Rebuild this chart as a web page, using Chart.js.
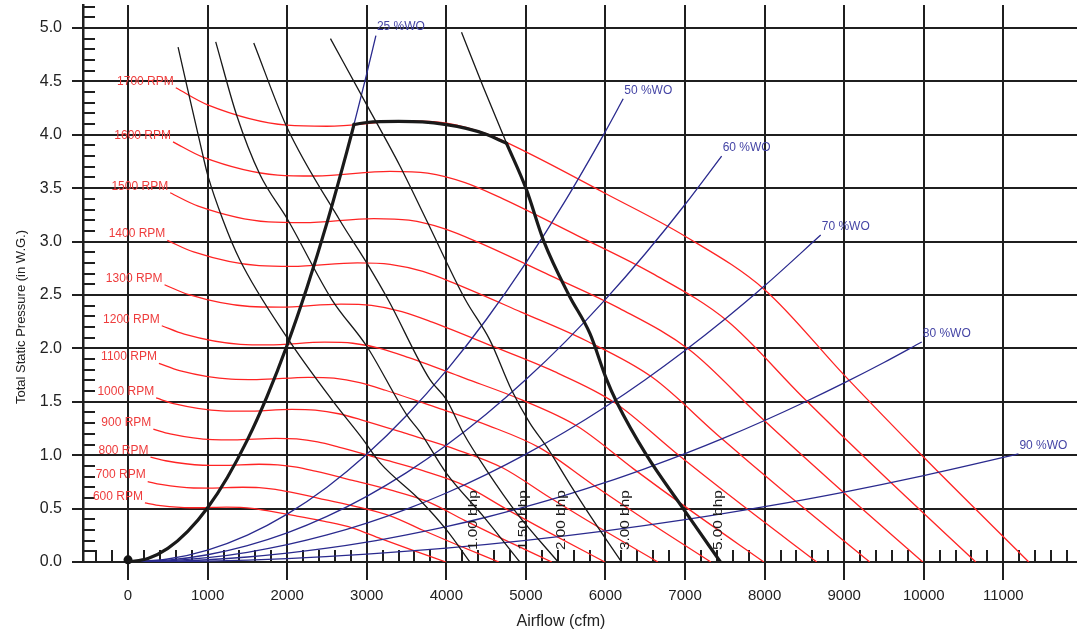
<!DOCTYPE html>
<html><head><meta charset="utf-8">
<script src="https://cdn.jsdelivr.net/npm/chart.js@4/dist/chart.umd.min.js"></script>
<style>html,body{margin:0;padding:0;background:#fff;}#wrap{width:1077px;height:634px;position:relative;}</style>
</head><body><div id="wrap"><canvas id="c" width="1077" height="634"></canvas></div>
<script>
// ---- tick labels ----
const xTicks = [0,1000,2000,3000,4000,5000,6000,7000,8000,9000,10000,11000];
const yTicks = [0,0.5,1.0,1.5,2.0,2.5,3.0,3.5,4.0,4.5,5.0];
const xTitle = 'Airflow (cfm)';
const yTitle = 'Total Static Pressure (in W.G.)';

// ---- fan speed curves (cfm, in W.G.) ----
const rpmSpeeds = [600,700,800,900,1000,1100,1200,1300,1400,1500,1600,1700];
const rpmFlow = [
  [212,353,706,882,1235,1412,1588,1765,2118,2471,2824,3176,3529,3995],
  [247,412,824,1029,1441,1647,1853,2059,2471,2882,3294,3706,4118,4661],
  [282,471,941,1176,1647,1882,2118,2353,2824,3294,3765,4235,4706,5327],
  [318,529,1059,1324,1853,2118,2382,2647,3176,3706,4235,4765,5294,5993],
  [353,588,1176,1471,2059,2353,2647,2941,3529,4118,4706,5294,5882,6659],
  [388,647,1294,1618,2265,2588,2912,3235,3882,4529,5176,5824,6471,7325],
  [424,706,1412,1765,2471,2824,3176,3529,4235,4941,5647,6353,7059,7991],
  [459,765,1529,1912,2676,3059,3441,3824,4588,5353,6118,6882,7647,8656],
  [494,824,1647,2059,2882,3294,3706,4118,4941,5765,6588,7412,8235,9322],
  [529,882,1765,2206,3088,3529,3971,4412,5294,6176,7059,7941,8824,9988],
  [565,941,1882,2353,3294,3765,4235,4706,5647,6588,7529,8471,9412,10654],
  [600,1000,2000,2500,3500,4000,4500,5000,6000,7000,8000,9000,10000,11320]
];
const rpmPressure = [
  [0.553,0.533,0.510,0.508,0.514,0.512,0.500,0.478,0.430,0.380,0.318,0.218,0.122,0],
  [0.753,0.726,0.693,0.692,0.700,0.697,0.680,0.651,0.585,0.517,0.432,0.297,0.166,0],
  [0.983,0.948,0.906,0.904,0.915,0.910,0.888,0.850,0.764,0.675,0.565,0.388,0.217,0],
  [1.244,1.200,1.146,1.144,1.158,1.152,1.124,1.076,0.967,0.855,0.715,0.491,0.275,0],
  [1.536,1.481,1.415,1.412,1.429,1.422,1.388,1.329,1.194,1.055,0.882,0.606,0.339,0],
  [1.859,1.792,1.712,1.708,1.729,1.721,1.679,1.608,1.445,1.277,1.068,0.733,0.410,0],
  [2.212,2.133,2.038,2.033,2.058,2.048,1.998,1.913,1.719,1.520,1.271,0.872,0.488,0],
  [2.596,2.503,2.392,2.386,2.415,2.403,2.345,2.246,2.018,1.784,1.491,1.023,0.573,0],
  [3.011,2.903,2.774,2.767,2.801,2.787,2.720,2.604,2.340,2.069,1.729,1.187,0.665,0],
  [3.457,3.332,3.184,3.177,3.215,3.200,3.122,2.990,2.686,2.375,1.985,1.363,0.763,0],
  [3.933,3.791,3.623,3.614,3.658,3.641,3.552,3.402,3.056,2.702,2.259,1.550,0.868,0],
  [4.44,4.28,4.09,4.08,4.13,4.11,4.01,3.84,3.45,3.05,2.55,1.75,0.98,0]
];

// ---- system curves (% wide open) ----
const wideOpenPct = [25,50,60,70,80,90];
const woFlow = [
  [0,250,500,750,1000,1250,1500,1750,2000,2250,2500,2750,3000,3115],
  [0,500,1000,1500,2000,2500,3000,3500,4000,4500,5000,5500,6000,6223],
  [0,500,1000,1500,2000,2500,3000,3500,4000,4500,5000,5500,6000,6500,7000,7460],
  [0,500,1000,1500,2000,2500,3000,3500,4000,4500,5000,5500,6000,6500,7000,7500,8000,8705],
  [0,500,1000,1500,2000,2500,3000,3500,4000,4500,5000,5500,6000,6500,7000,7500,8000,8500,9000,9500,9975],
  [0,1000,2000,3000,4000,5000,6000,7000,8000,9000,10000,11000,11190]
];
const woPressure = [
  [0,0.032,0.127,0.286,0.508,0.794,1.143,1.556,2.032,2.572,3.175,3.842,4.572,4.929],
  [0,0.028,0.112,0.252,0.448,0.700,1.008,1.372,1.792,2.268,2.800,3.388,4.032,4.337],
  [0,0.017,0.068,0.154,0.273,0.427,0.615,0.837,1.093,1.383,1.708,2.066,2.459,2.886,3.347,3.801],
  [0,0.010,0.040,0.091,0.162,0.253,0.364,0.495,0.646,0.818,1.010,1.222,1.454,1.707,1.980,2.273,2.586,3.061],
  [0,0.005,0.021,0.047,0.083,0.129,0.186,0.254,0.331,0.419,0.518,0.626,0.745,0.875,1.014,1.164,1.325,1.496,1.677,1.868,2.060],
  [0,0.008,0.032,0.073,0.129,0.202,0.291,0.396,0.518,0.655,0.809,0.979,1.013]
];

// ---- brake horsepower curves ----
const bhpValues = [1.00,1.50,2.00,3.00,5.00];
const bhpFlow = [
  [629,943,1006,1194,1404,2000,2560,2950,3165,3667,4002,4296],
  [1102,1362,1656,2011,2563,3000,3500,3667,4002,4463,4924],
  [1580,1991,2661,3000,3269,3792,4002,4211,4505,4882,5405],
  [2544,3000,3416,3751,4240,4546,4820,5050,5260,5560,5820,6202],
  [4191,4463,4757,5000,5227,5540,5804,6014,6139,6516,6977,7445]
];
const bhpPressure = [
  [4.82,3.80,3.61,3.20,2.83,2.10,1.52,1.15,0.93,0.58,0.30,0],
  [4.87,4.19,3.63,3.20,2.455,2.02,1.38,1.22,0.83,0.43,0],
  [4.86,4.08,3.20,2.80,2.455,1.71,1.52,1.21,0.86,0.46,0],
  [4.90,4.28,3.71,3.20,2.455,2.08,1.61,1.30,1.08,0.72,0.42,0],
  [4.96,4.45,3.92,3.50,3.00,2.50,2.14,1.71,1.50,1.00,0.50,0]
];

// ---- operating limit (thick) ----
const limitLeftFlow = [0,250,500,750,1000,1250,1500,1750,2000,2250,2500,2750,2840];
const limitLeftPressure = [0,0.032,0.127,0.286,0.508,0.794,1.143,1.556,2.032,2.572,3.175,3.842,4.097];
const limitTopFlow = [2840,3000,3400,3700,4000,4250,4500,4757];
const limitTopPressure = [4.097,4.115,4.125,4.12,4.095,4.06,4.005,3.92];
const limitRightFlow = [4757,5000,5227,5540,5804,6014,6139,6516,6977,7445];
const limitRightPressure = [3.92,3.50,3.00,2.50,2.14,1.71,1.50,1.00,0.50,0];
const originFlow = [0];
const originPressure = [0.02];

// ---------------------------------------------------------------
const FONT = '"Liberation Sans", Arial, Helvetica, sans-serif';
Chart.defaults.font.family = FONT;
const GRID = '#1f1f1f';
const pts = (q, p) => q.map((v, i) => ({x: v, y: p[i]}));
const datasets = [];
[[limitLeftFlow, limitLeftPressure],[limitTopFlow, limitTopPressure],[limitRightFlow, limitRightPressure]].forEach(([q,p]) => {
  datasets.push({data: pts(q,p), borderColor:'#1a1a1a', borderWidth:3.2, pointRadius:0, cubicInterpolationMode:'monotone', order:0, borderCapStyle:'round'});
});
datasets.push({data: pts(originFlow, originPressure), showLine:false, pointRadius:4.5, pointBackgroundColor:'#141414', pointBorderWidth:0, order:0, clip:false});
bhpValues.forEach((b,i) => datasets.push({data: pts(bhpFlow[i], bhpPressure[i]), borderColor:'#181818', borderWidth:1.3, pointRadius:0, cubicInterpolationMode:'monotone', order:1}));
wideOpenPct.forEach((w,i) => datasets.push({data: pts(woFlow[i], woPressure[i]), borderColor:'#2a2a8e', borderWidth:1.3, pointRadius:0, cubicInterpolationMode:'monotone', order:2}));
rpmSpeeds.forEach((n,i) => datasets.push({data: pts(rpmFlow[i], rpmPressure[i]), borderColor:'#ff2424', borderWidth:1.3, pointRadius:0, cubicInterpolationMode:'monotone', order:3}));

const overlay = {
  id: 'overlay',
  beforeDatasetsDraw(chart) {
    const {ctx, scales:{x, y}, chartArea} = chart;
    ctx.save();
    ctx.strokeStyle = GRID; ctx.lineWidth = 2;
    ctx.beginPath();
    for (let v = -400; v <= 11800; v += 200) {
      const px = Math.round(x.getPixelForValue(v));
      ctx.moveTo(px, chartArea.bottom); ctx.lineTo(px, chartArea.bottom - 12);
    }
    for (let k = 1; k <= 52; k++) {
      const py = Math.round(y.getPixelForValue(k / 10));
      ctx.moveTo(chartArea.left, py); ctx.lineTo(chartArea.left + 12, py);
    }
    ctx.stroke();
    ctx.restore();
  },
  afterDatasetsDraw(chart) {
    const {ctx, scales:{x, y}, chartArea} = chart;
    ctx.save();
    ctx.font = '12px ' + FONT;
    ctx.fillStyle = '#ee3c3c'; ctx.textAlign = 'right'; ctx.textBaseline = 'middle';
    rpmSpeeds.forEach((n,i) => {
      ctx.fillText(n + ' RPM', x.getPixelForValue(rpmFlow[i][0]) - 2, y.getPixelForValue(rpmPressure[i][0]) - 6.5);
    });
    ctx.fillStyle = '#4545a5'; ctx.textAlign = 'left';
    wideOpenPct.forEach((w,i) => {
      const q = woFlow[i], p = woPressure[i];
      ctx.fillText(w + ' %WO', x.getPixelForValue(q[q.length-1]) + 1, y.getPixelForValue(p[p.length-1]) - 8.5);
    });
    ctx.fillStyle = '#1a1a1a';
    bhpValues.forEach((b,i) => {
      const q = bhpFlow[i];
      ctx.save();
      ctx.translate(x.getPixelForValue(q[q.length-1]) + (i === bhpValues.length - 1 ? -2 : 3.5), chartArea.bottom - 12);
      ctx.rotate(-Math.PI/2);
      ctx.scale(1.18, 1);
      ctx.font = '13px ' + FONT;
      ctx.textAlign = 'left'; ctx.textBaseline = 'middle';
      ctx.fillText(b.toFixed(2) + ' bhp', 0, 0);
      ctx.restore();
    });
    // axis titles
    ctx.fillStyle = '#222';
    ctx.textAlign = 'center'; ctx.textBaseline = 'middle';
    ctx.font = '16px ' + FONT;
    ctx.fillText(xTitle, 561, 622);
    ctx.save();
    ctx.translate(21, 317);
    ctx.rotate(-Math.PI/2);
    ctx.font = '13px ' + FONT;
    ctx.fillText(yTitle, 0, 0);
    ctx.restore();
    ctx.restore();
  }
};

const zeroPad = s => { s.paddingTop = 0; s.paddingBottom = 0; s.paddingLeft = 0; s.paddingRight = 0; };

new Chart(document.getElementById('c'), {
  type: 'line',
  data: { datasets },
  plugins: [overlay],
  options: {
    responsive: false,
    animation: false,
    events: [],
    layout: { autoPadding: false, padding: { top: 5, right: 0, bottom: 0, left: 0 } },
    plugins: { legend: { display: false }, tooltip: { enabled: false } },
    scales: {
      x: {
        type: 'linear', min: -566, max: 11926,
        afterBuildTicks: s => { s.ticks = xTicks.map(v => ({value: v})); },
        afterFit: s => { s.height = 72; zeroPad(s); },
        grid: { color: GRID, lineWidth: 2, tickLength: 18 },
        border: { display: true, color: GRID, width: 2 },
        ticks: { font: { size: 15 }, color: '#222', padding: 7, maxRotation: 0, autoSkip: false, callback: v => String(v) },
        title: { display: false }
      },
      y: {
        type: 'linear', min: 0, max: 5.215,
        afterBuildTicks: s => { s.ticks = yTicks.map(v => ({value: v})); },
        afterFit: s => { s.width = 83; zeroPad(s); },
        grid: { color: GRID, lineWidth: 2, tickLength: 11 },
        border: { display: true, color: GRID, width: 2.5 },
        ticks: { font: { size: 16 }, color: '#222', padding: 10, autoSkip: false, callback: v => Number(v).toFixed(1) },
        title: { display: false }
      }
    }
  }
});
</script></body></html>
